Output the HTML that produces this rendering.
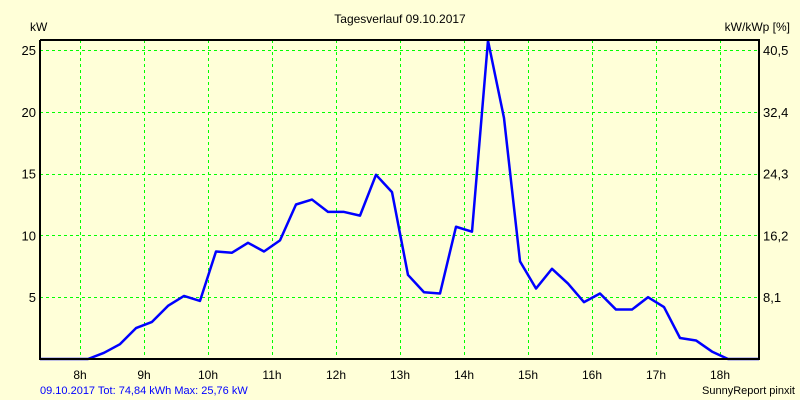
<!DOCTYPE html>
<html><head><meta charset="utf-8"><style>
body{margin:0;background:#ffffd8;}
svg{display:block;font-family:"Liberation Sans",sans-serif;font-size:12px;}
</style></head><body>
<svg width="800" height="400">
<rect x="0" y="0" width="800" height="400" fill="#ffffd8"/>
<text x="400" y="23" text-anchor="middle">Tagesverlauf 09.10.2017</text>
<text x="30" y="31">kW</text>
<text x="790" y="31" text-anchor="end">kW/kWp [%]</text>
<g id="grid" shape-rendering="crispEdges"></g>
<g id="series"></g>
<g id="axes"></g>
<text x="40" y="394" fill="#0000ff" font-size="11">09.10.2017 Tot: 74,84 kWh Max: 25,76 kW</text>
<text x="795" y="394" text-anchor="end" font-size="11">SunnyReport pinxit</text>
</svg>
<script>
const hours = [8,9,10,11,12,13,14,15,16,17,18];
const leftTicks = [5,10,15,20,25];
const rightTickLabels = ["8,1","16,2","24,3","32,4","40,5"];
const startHour = 7.375;
const power = [0,0,0,0,0.5,1.2,2.5,3.0,4.3,5.1,4.7,8.7,8.6,9.4,8.7,9.6,12.5,12.9,11.9,11.9,11.6,14.9,13.5,6.8,5.4,5.3,10.7,10.3,25.76,19.5,7.9,5.7,7.3,6.1,4.6,5.3,4.0,4.0,5.0,4.2,1.7,1.5,0.6,0,0,0];
const NS="http://www.w3.org/2000/svg";
const L=40,R=759,T=40,B=359;
const xs=h=>80+(h-8)*64;
const ys=v=>B-v*12.36;
const grid=document.getElementById('grid'),axes=document.getElementById('axes'),series=document.getElementById('series');
function mk(tag,attrs,parent){const e=document.createElementNS(NS,tag);for(const k in attrs)e.setAttribute(k,attrs[k]);parent.appendChild(e);return e;}
hours.forEach(h=>{
  const gx=Math.round(xs(h))+0.5;
  const l=mk('line',{x1:gx,x2:gx,y1:T,y2:B,stroke:'#00ff00','stroke-width':1,'stroke-dasharray':'3,3'},grid);
  
  
  const t=mk('text',{x:xs(h),y:379,'text-anchor':'middle'},axes);
  t.textContent=h+'h';
  
  
});
leftTicks.forEach((v,i)=>{
  const gy=Math.round(ys(v))+0.5;
  const l=mk('line',{x1:L,x2:R,y1:gy,y2:gy,stroke:'#00ff00','stroke-width':1,'stroke-dasharray':'3,3'},grid);
  
  
  const t=mk('text',{x:36,y:ys(v)+5,'text-anchor':'end','font-size':'13'},axes);
  t.textContent=v;
  
  
  const r=mk('text',{x:763,y:ys(v)+5,'font-size':'13'},axes);
  r.textContent=rightTickLabels[i];
  
  
});
const pts=power.map((v,i)=>{const x=Math.min(R,xs(startHour+i*0.25));return x+','+Math.max(T,ys(v));}).join(' ');
const pl=mk('polyline',{points:pts,fill:'none',stroke:'#0000ff','stroke-width':'2.5','stroke-linejoin':'round'},series);


const fr=mk('path',{d:`M${L},${T}V${B}H${R}V${T}H${L}`,fill:'none',stroke:'#000','stroke-width':'2'},axes);


</script>
</body></html>
